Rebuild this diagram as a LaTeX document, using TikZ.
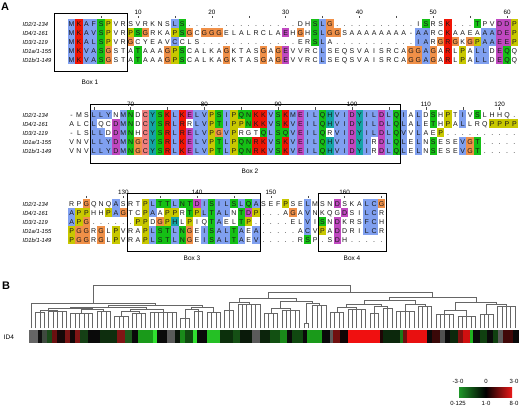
\documentclass[tikz,border=0pt]{standalone}
\usepackage{fontspec}
\setmainfont{Liberation Sans}
\usetikzlibrary{calc}
\definecolor{clb}{HTML}{80A0F0}
\definecolor{clr}{HTML}{F01505}
\definecolor{clm}{HTML}{C048C0}
\definecolor{clg}{HTML}{15C015}
\definecolor{clo}{HTML}{F09048}
\definecolor{cly}{HTML}{C8C800}
\definecolor{clc}{HTML}{15A4A4}
\definecolor{clp}{HTML}{F08080}
\newcount\colidx
\def\rp#1#2{\ifnum#1>0 #2\expandafter\rp\expandafter{\the\numexpr#1-1\relax}{#2}\fi}
\def\drawcell#1#2{%
  \pgfmathsetmacro\cx{71.6+7.38*\the\colidx}%
  \edef\cellname{\rowtag-\the\colidx}%
  \if#2.\else\fill[cl#2] (\cx-3.72,\rowy-4.5) rectangle (\cx+3.72,\rowy+4.5);\fi
  \node[res] (\cellname) at (\cx,\rowy+2.5) {#1};%
}
\def\seqloop#1#2\endA#3#4\endB{%
  \drawcell{#1}{#3}%
  \global\advance\colidx by 1\relax
  \ifx\relax#2\relax\else\seqloop#2\endA#4\endB\fi}
\def\seqrow#1#2#3#4{%
  \global\colidx=0\relax
  \def\rowtag{#1}\def\rowy{#2}%
  \edef\seqtmp{\noexpand\seqloop#3\noexpand\endA#4\noexpand\endB}%
  \seqtmp}
\newcommand\dendcomb[4]{%
  \foreach \i in {#2,...,#3}{\draw[dendl] ({31+4.4*\i},328) -- ({31+4.4*\i},#4);}
  \draw[dendl] ({31+4.4*#2},#4) -- ({31+4.4*#3},#4);
  \coordinate (#1) at ({31+2.2*(#2+#3)},#4);}
\newcommand\dendjoin[4]{%
  \coordinate (tmpy) at (0,#4);
  \draw[dendl] (#2) -- (#2 |- tmpy) -- (#3 |- tmpy) -- (#3);
  \coordinate (#1) at ($(#2 |- tmpy)!0.5!(#3 |- tmpy)$);}
\begin{document}
\begin{tikzpicture}[x=1pt,y=-1pt,
  res/.style={anchor=base,inner sep=0pt,font=\fontsize{7}{8}\selectfont,text=black!90},
  nm/.style={anchor=base west,inner sep=0pt,font=\fontsize{5.8}{7}\selectfont\itshape},
  num/.style={inner sep=0pt,font=\fontsize{6.3}{7}\selectfont},
  tickl/.style={draw=black!70,line width=0.4pt},
  boxl/.style={draw=black,line width=0.9pt},
  blab/.style={inner sep=0pt,font=\fontsize{6.5}{7}\selectfont},
  dendl/.style={draw=black!60,line width=0.45pt},
  panel/.style={inner sep=0pt,font=\fontsize{11}{12}\selectfont\bfseries},
  leg/.style={inner sep=0pt,font=\fontsize{6}{7}\selectfont}]
\fill[white] (0,0) rectangle (520,409);
\useasboundingbox (0,0) rectangle (520,409);
\node[panel] (pA) at (5,7) {A};
% ---------- block 1
\foreach \k in {10,20,...,60} \node[num] (na\k) at ({71.6+7.38*(\k-1)},12.5) {\k};
\foreach \k in {5,10,...,60} \draw[tickl] ({71.6+7.38*(\k-1)},16) -- ({71.6+7.38*(\k-1)},18.5);
\node[nm] (nameA1) at (22.5,26.2) {ID2/1-134};
\node[nm] (nameA2) at (22.5,35.2) {ID4/1-161};
\node[nm] (nameA3) at (22.5,44.2) {ID3/1-119};
\node[nm] (nameA4) at (22.5,53.2) {ID1a/1-155};
\node[nm] (nameA5) at (22.5,62.2) {ID1b/1-149};
\seqrow{a1}{24}{MKAFSPVRSVRKNSLS\rp{15}.DHSLG\rp{11}.ISRSK\rp3.TPVDDP}{brbbgy\rp8.bg\rp{17}.gbo\rp{12}.g..r\rp3.g..mmy\rp5.}
\seqrow{a2}{33}{MKAVSPVRPSGRKAPSGCGGGELALRCLAEHGHSLGGS\rp8A-AARCKAAEAAADEP}{brbbgy..ygo...ygo.ooo\rp8.m.o.gboo.\rp9.bb..r\rp4.bbmmy\rp5.}
\seqrow{a3}{42}{MKALSPVRGCYEAVCCLS\rp{13}.ERSLA\rp{11}.IARGRGKGPAAEEP}{brbbgy..o.....b...\rp{13}...gb.\rp{11}.bb.oro.oybbmmy\rp5.}
\seqrow{a4}{51}{MKVASGSTATAAAGPSCALKAGKTASGAGEVVRCLSEQSVAISRCAGGAGARLPALLDEQQ}{brbbgo...g...oyg\rp5.o\rp4.o.om\rp4.b\rp{11}.oobo.r.y.bb.mg.\rp5.}
\seqrow{a5}{60}{MKVASGSTATAAAGPSCALKAGKTASGAGEVVRCLSEQSVAISRCAGGAGARLPALLDEQQ}{brbbgo...g...oyg\rp5.o\rp4.o.om\rp4.b\rp{11}.oobo.r.y.bb.mg.\rp5.}
\draw[boxl] (54,13) rectangle (127.5,71);
\node[blab] (box1) at (90,82) {Box 1};
% ---------- block 2
\foreach \k in {70,80,...,120} \node[num] (nb\k) at ({71.6+7.38*(\k-62)},104) {\k};
\foreach \k in {65,70,...,120} \draw[tickl] ({71.6+7.38*(\k-62)},107.5) -- ({71.6+7.38*(\k-62)},110);
\node[nm] (nameB1) at (22.5,117.2) {ID2/1-134};
\node[nm] (nameB2) at (22.5,126.2) {ID4/1-161};
\node[nm] (nameB3) at (22.5,135.2) {ID3/1-119};
\node[nm] (nameB4) at (22.5,144.2) {ID1a/1-155};
\node[nm] (nameB5) at (22.5,153.2) {ID1b/1-149};
\seqrow{b1}{115}{-MSLLYNMNDCYSKLKELVPSIPQNKKVSKMEILQHVIDYILDLQIALDSHPTIVSLHHQ.}{...bbb.bg.pcgrbrmbbygbyggrrbgrbmbbgcbbmcbbmbgb.b.g.y.b.g\rp{10}.}
\seqrow{b2}{124}{ALCLQCDMNDCYSRLRRLVPTIPPNKKVSKVEILQHVIDYILDLQLALETHPALLRQPPPP}{...b..mbg.pcgrbr.bbygbyygrrbgrbmbbgcbbmcbbmbgb.b.g.y.b...yyyy\rp5.}
\seqrow{b3}{133}{-LSLLDDMNHCYSRLRELVPGVPRGTQLSQVEILQRVIDYILDLQVVLAEP\rp{10}.}{...bb.mbg.pcgrbrmbbyoby...gbggbmbbg.bbmcbbmbgb.b..y\rp{15}.}
\seqrow{b4}{142}{VNVLLYDMNGCYSRLKELVPTLPQNRKVSKVEILQHVIDYIRDLQLELNSESEVGT\rp5.}{...bbbmbgopcgrbrmbbygbyggrrbgrbmbbgcbbmcb.mbgb.b.g...bog\rp{10}.}
\seqrow{b5}{151}{VNVLLYDMNGCYSRLKELVPTLPQNRKVSKVEILQHVIDYIRDLQLELNSESEVGT\rp5.}{...bbbmbgopcgrbrmbbygbyggrrbgrbmbbgcbbmcb.mbgb.b.g...bog\rp{10}.}
\draw[boxl] (90,104.5) rectangle (400,163);
\node[blab] (box2) at (250,171.5) {Box 2};
% ---------- block 3
\foreach \k in {130,140,150,160} \node[num] (nc\k) at ({71.6+7.38*(\k-123)},192.5) {\k};
\foreach \k in {125,130,...,165} \draw[tickl] ({71.6+7.38*(\k-123)},196) -- ({71.6+7.38*(\k-123)},198.5);
\node[nm] (nameC1) at (22.5,206.2) {ID2/1-134};
\node[nm] (nameC2) at (22.5,215.2) {ID4/1-161};
\node[nm] (nameC3) at (22.5,224.2) {ID3/1-119};
\node[nm] (nameC4) at (22.5,233.2) {ID1a/1-155};
\node[nm] (nameC5) at (22.5,242.2) {ID1b/1-149};
\seqrow{c1}{204}{RPGQNQASRTPLTTLNTDISILSLQASEFPSELMSNDSKALCG}{..o...b...ybggbggmbgbbgbgb...y..b...m...bbo\rp5.}
\seqrow{c2}{213}{APPHHPAGTCPAAPPRTPLTALNTDP...AGAVNKQGDSILCR}{byy..ybo..yb.yy.gybgbb.gmy....o.b....m..bb.\rp5.}
\seqrow{c3}{222}{APG\rp6.PPDGPHLPIQTAELTP\rp5.ELVISNDKRSFCH}{byo......yy.oyc.y..gb..gy.......b.g.m...bb.\rp5.}
\seqrow{c4}{231}{PGGRGLPVRAPLSTLNGEISALTAEA\rp5.ACVPADDRILCR}{yoo.o.y...ybggbgo.bgbbgb.b......b.y.m...bb.\rp5.}
\seqrow{c5}{240}{PGGRGLPVRAPLSTLNGEISALTAEV\rp5.RSP.SDH\rp5.}{yoo.o.y...ybggbgo.bgbbgb.b......g...m......\rp5.}
\draw[boxl] (127,193) rectangle (260,251);
\draw[boxl] (318,193) rectangle (386,251);
\node[blab] (box3) at (192,258.5) {Box 3};
\node[blab] (box4) at (352,258.5) {Box 4};
% ---------- panel B
\node[panel] (pB) at (6,286) {B};
\node[leg,font=\fontsize{6.5}{7}\selectfont] (id4) at (9,337) {ID4};
\foreach \ha/\hb/\hc in {29/38/666666,38/42/111111,42/47/3F4A3F,47/52/1A4A1A,52/57/6A1010,57/65/150808,65/70/7A1515,70/75/100808,75/80/801515,80/88/154015,88/100/0A0A0A,100/117/0E2E0E,117/125/801515,125/132/1D5A1D,132/138/0A0A0A,138/153/1A9A1A,153/157/30E030,157/167/0A0A0A,167/175/5A5A5A,175/180/0A140A,180/185/1A8A1A,185/193/104A10,193/197/30E030,197/207/0A0A0A,207/220/25C025,220/233/0C300C,233/240/155015,240/252/0A1A0A,252/260/5A5A5A,260/270/0C240C,270/280/125012,280/287/1A8A1A,287/292/0A0A0A,292/303/104810,303/307/0A0A0A,307/322/1A9A1A,322/330/0A0A0A,330/333/5A5A5A,333/340/701010,340/348/100505,348/380/F01010,380/383/200505,383/400/0C280C,400/403/1A7A1A,403/407/701010,407/427/E81010,427/432/0A0A0A,432/440/3A0808,440/445/505050,445/450/0A0A0A,450/458/0C280C,458/463/801010,463/470/D01010,470/473/20B020,473/480/0A0A0A,480/487/104010,487/493/0A0A0A,493/498/104010,498/503/5A5A5A,503/513/400808,513/519/0A0A0A}
  {\definecolor{hm}{HTML}{\hc}\fill[hm] (\ha,330) rectangle (\hb+0.3,343);}
% dendrogram
\dendcomb{C1}{0}{0}{303}
\dendcomb{C2}{1}{3}{312}
\dendcomb{C3}{4}{8}{311}
\dendcomb{C4}{9}{14}{313}
\dendcomb{C5}{15}{18}{311}
\dendcomb{C6}{19}{22}{316}
\dendcomb{C7}{23}{26}{313}
\dendcomb{C8}{27}{33}{312}
\dendcomb{C9}{34}{36}{318}
\dendcomb{C10}{37}{39}{311}
\dendcomb{C11}{40}{43}{312}
\dendcomb{C12}{44}{46}{310}
\dendcomb{C13}{47}{52}{304}
\dendcomb{C14}{53}{56}{313}
\dendcomb{C15}{57}{61}{310}
\dendcomb{C16}{62}{63}{323}
\dendcomb{C17}{64}{67}{305}
\dendcomb{C18}{68}{71}{312}
\dendcomb{C19}{72}{76}{309}
\dendcomb{C20}{77}{79}{313}
\dendcomb{C21}{80}{82}{308}
\dendcomb{C22}{83}{87}{311}
\dendcomb{C23}{88}{91}{306}
\dendcomb{C24}{92}{96}{314}
\dendcomb{C25}{97}{101}{316}
\dendcomb{C26}{102}{105}{314}
\dendcomb{C27}{106}{110}{306}
\dendjoin{J1}{C2}{C3}{310}
\dendjoin{J2}{C4}{C5}{309}
\dendjoin{J4}{J1}{J2}{308}
\dendjoin{J3}{C6}{C7}{311}
\dendjoin{J5}{J3}{C8}{309}
\dendjoin{J8}{J4}{J5}{307}
\dendjoin{J6}{C9}{C10}{309}
\dendjoin{J7}{J6}{C11}{307}
\dendjoin{J9}{J8}{J7}{305}
\dendjoin{LL}{C1}{J9}{303}
\dendjoin{K1}{C12}{C13}{302}
\dendjoin{K2}{C14}{C15}{308}
\dendjoin{K3}{C16}{C17}{303}
\dendjoin{K4}{K2}{K3}{301}
\dendjoin{K5}{K1}{K4}{298}
\dendjoin{K6}{C18}{C19}{307}
\dendjoin{K7}{C20}{C21}{306}
\dendjoin{K8}{K6}{K7}{304}
\dendjoin{K9}{C22}{C23}{304}
\dendjoin{K10}{K8}{K9}{300}
\dendjoin{K11}{C24}{C25}{310}
\dendjoin{K12}{C26}{C27}{304}
\dendjoin{K13}{K11}{K12}{302}
\dendjoin{K14}{K10}{K13}{297}
\dendjoin{RR}{K5}{K14}{292}
\dendjoin{ROOT}{LL}{RR}{285}
% legend
\shade[left color={rgb,255:red,30;green,150;blue,40},right color={rgb,255:red,235;green,25;blue,25},middle color=black] (459,387) rectangle (512,397);
\node[leg] (lm3) at (458,381.5) {-3·0};
\node[leg] (l0) at (486,381.5) {0};
\node[leg] (lp3) at (514,381.5) {3·0};
\node[leg] (l0125) at (458,403) {0·125};
\node[leg] (l1) at (486,403) {1·0};
\node[leg] (l8) at (514,403) {8·0};
\end{tikzpicture}
\end{document}
